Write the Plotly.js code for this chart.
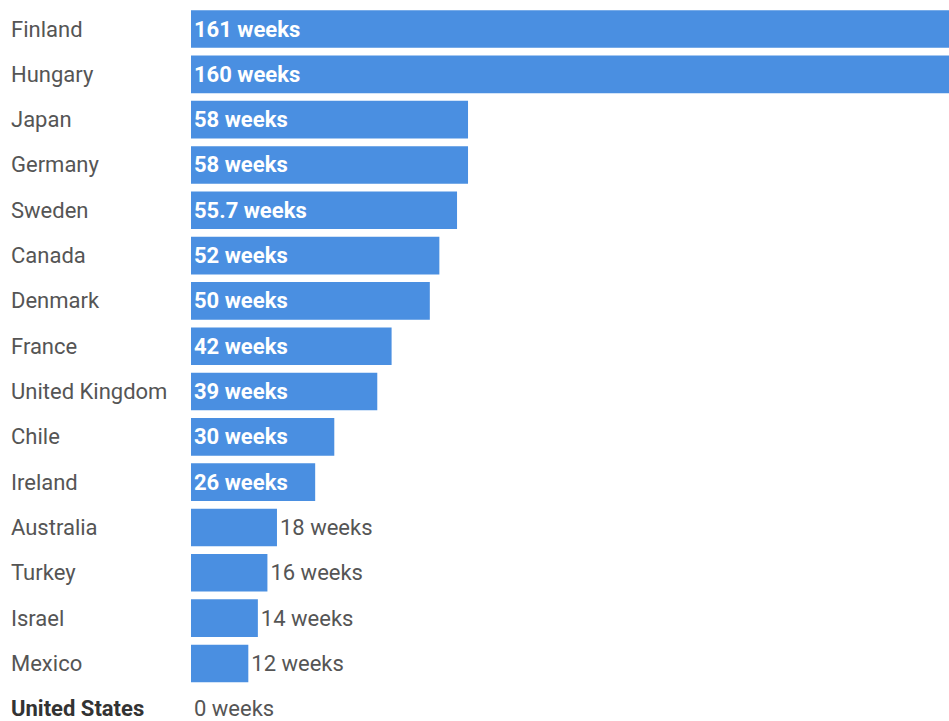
<!DOCTYPE html>
<html>
<head>
<meta charset="utf-8">
<script src="https://cdn.plot.ly/plotly-3.0.1.min.js"></script>
<style>html,body{margin:0;padding:0;background:#fff;}#chart{width:949px;height:721px;}</style>
</head>
<body>
<div id="chart"></div>
<script>
var countries = ["Finland","Hungary","Japan","Germany","Sweden","Canada","Denmark","France","United Kingdom","Chile","Ireland","Australia","Turkey","Israel","Mexico","United States"];
var weeks = [161,160,58,58,55.7,52,50,42,39,30,26,18,16,14,12,0];
var labels = ["161 weeks","160 weeks","58 weeks","58 weeks","55.7 weeks","52 weeks","50 weeks","42 weeks","39 weeks","30 weeks","26 weeks","18 weeks","16 weeks","14 weeks","12 weeks","0 weeks"];

var positions = weeks.map(function(w){ return w >= 20 ? 'inside' : 'outside'; });

var trace = {
  type: 'bar',
  orientation: 'h',
  x: weeks,
  y: countries,
  text: labels,
  textposition: positions,
  insidetextanchor: 'start',
  cliponaxis: true,
  textangle: 0,
  constraintext: 'none',
  insidetextfont: {family: 'Roboto, sans-serif', size: 22, color: '#ffffff', weight: 'bold'},
  outsidetextfont: {family: 'Roboto, sans-serif', size: 22, color: '#555555'},
  marker: {color: '#4a8fe1', line: {width: 0}},
  hoverinfo: 'none'
};

var annotations = countries.map(function(c){
  var us = c === 'United States';
  return {
    xref: 'paper', yref: 'y', x: -0.2401, y: c,
    xanchor: 'left', yanchor: 'middle', showarrow: false,
    text: us ? '<b>' + c + '</b>' : c,
    font: {family: 'Roboto, sans-serif', size: 22, color: us ? '#333333' : '#555555'}
  };
});

var layout = {
  width: 949, height: 721,
  margin: {l: 191, r: 0, t: 0, b: 0, pad: 0},
  paper_bgcolor: '#ffffff', plot_bgcolor: '#ffffff',
  bargap: 0.17,
  showlegend: false,
  xaxis: {range: [0, 158.7], visible: false, fixedrange: true},
  yaxis: {type: 'category', range: [15.27, -0.64], showticklabels: false, showgrid: false, zeroline: false, showline: false, ticks: ''},
  annotations: annotations,
  uniformtext: {mode: false}
};

Plotly.newPlot('chart', [trace], layout, {displayModeBar: false, staticPlot: true});
</script>
</body>
</html>
